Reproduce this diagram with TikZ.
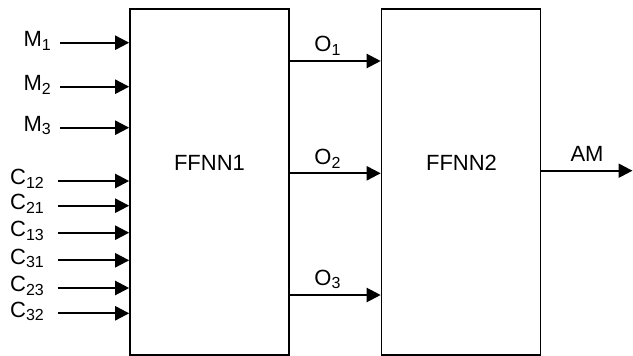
\documentclass[tikz,border=0pt]{standalone}
\usepackage{fontspec}
\setmainfont{Liberation Sans}
\usetikzlibrary{arrows.meta}
\newcommand{\mysub}[1]{{\fontsize{16}{16}\selectfont\raisebox{-3.5pt}{#1}}}
\begin{document}
\begin{tikzpicture}[x=1pt,y=-1pt,
  box/.style={draw, line width=1.6pt, minimum width=159pt, minimum height=346pt, inner sep=0pt},
  arr/.style={line width=2.2pt, -{Triangle[length=14pt,width=14pt]}},
  lab/.style={font=\fontsize{22}{24}\selectfont, inner sep=0pt},
  title/.style={font=\fontsize{22}{24}\selectfont, inner sep=0pt}]
\useasboundingbox (0,0) rectangle (633,356);
\node[box] (b1) at (209.5,182) {};
\node[box] (b2) at (461,182) {};
\node[title] (t1) at (209.5,163) {FFNN1};
\node[title] (t2) at (461.5,163) {FFNN2};
% inputs
\foreach \n/\y/\x/\lx/\txt in {m1/42.7/60/51/M\mysub{1}, m2/86.7/60/51/M\mysub{2}, m3/127.7/60/51/M\mysub{3},
  c12/181/57.7/44/C\mysub{12}, c21/205.7/57.7/44/C\mysub{21}, c13/232.7/57.7/44/C\mysub{13},
  c31/260.3/57.7/44/C\mysub{31}, c23/288/57.7/44/C\mysub{23}, c32/313.3/57.7/44/C\mysub{32}}{
  \coordinate (\n) at (\x,\y);
  \node[lab, anchor=east] (l\n) at (\lx,\y-2) {\txt};
  \draw[arr] (\n) -- (\n -| b1.west);
}
% intermediate
\foreach \n/\y in {o1/61, o2/173.3, o3/295}{
  \coordinate (\n) at (289,\y);
  \draw[arr] (\n -| b1.east) -- (\n -| b2.west);
}
\node[lab] (lo1) at (327.5,46) {O\mysub{1}};
\node[lab] (lo2) at (327.5,159) {O\mysub{2}};
\node[lab] (lo3) at (327.5,279.5) {O\mysub{3}};
% output
\coordinate (am) at (632.5,170.7);
\draw[arr] (am -| b2.east) -- (am);
\node[lab] (lam) at (587,154) {AM};
\end{tikzpicture}
\end{document}
